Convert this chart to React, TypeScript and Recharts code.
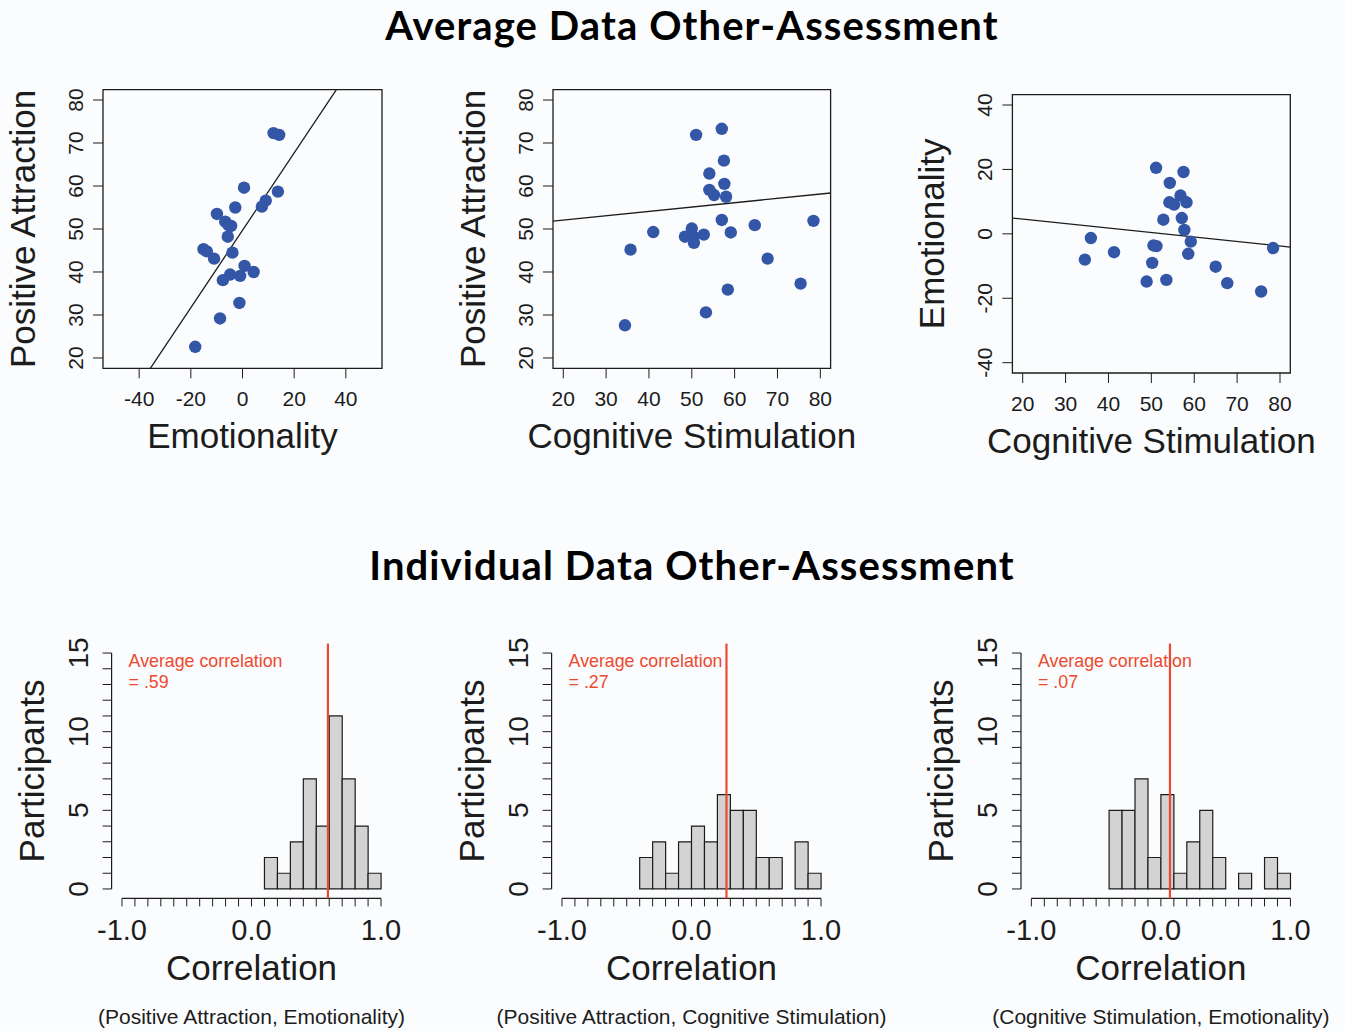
import React from "react";
import {
  Bar,
  BarChart,
  ReferenceArea,
  ReferenceLine,
  Scatter,
  ScatterChart,
  XAxis,
  YAxis
} from "recharts";

const FONT = '"Liberation Sans", Arial, Helvetica, sans-serif';
const TITLE_FONT = 'Lato, "Open Sans", sans-serif';
const INK = "#1c1c1c";
const DOT = "#3456a6";
const RED = "#ec4a2e";
const BG = "#fbfcfe";

// top row: average ratings per target
const emoX1 = [12.0, 14.2, 0.6, 13.7, 9.0, 7.5, -2.8, -9.9, -6.7, -4.4, -5.4, -5.7, -15.1, -13.8, -11.0, -3.9, 0.8, 4.3, -4.8, -0.9, -7.6, -1.2, -8.7, -18.3];
const attrY1 = [72.3, 71.9, 59.6, 58.7, 56.6, 55.2, 55.0, 53.5, 51.7, 50.7, 50.9, 48.2, 45.3, 44.8, 43.1, 44.5, 41.4, 40.0, 39.4, 39.1, 38.1, 32.8, 29.2, 22.6];
const fit1 = { a: 49.7, b: 0.9 };

const cogX2 = [51.0, 57.0, 57.5, 54.1, 57.6, 54.1, 55.2, 58.0, 57.0, 64.7, 78.4, 41.0, 59.1, 50.0, 48.4, 50.4, 52.8, 50.5, 35.7, 67.7, 75.4, 58.4, 53.3, 34.4];
const attrY2 = [71.9, 73.3, 65.9, 62.9, 60.5, 59.1, 57.9, 57.5, 52.1, 50.9, 51.9, 49.3, 49.2, 50.1, 48.2, 48.2, 48.7, 46.8, 45.2, 43.1, 37.3, 35.9, 30.6, 27.6];
const fit2 = { a: 50.05, b: 0.101 };

const cogX3 = [51.1, 57.5, 54.3, 56.8, 54.2, 55.3, 58.2, 52.8, 57.1, 57.7, 59.2, 35.9, 41.3, 50.5, 51.2, 58.6, 78.4, 34.5, 50.2, 65.0, 48.9, 53.5, 67.7, 75.6];
const emoY3 = [20.5, 19.2, 15.8, 11.9, 9.8, 9.1, 9.8, 4.4, 4.9, 1.2, -2.4, -1.3, -5.7, -3.6, -3.8, -6.2, -4.4, -8.0, -9.0, -10.2, -14.8, -14.3, -15.3, -17.9];
const fit3 = { a: 7.36, b: -0.139 };

const emoTicks = [-40, -20, 0, 20, 40];
const scoreTicks = [20, 30, 40, 50, 60, 70, 80];
const emoYTicks = [-40, -20, 0, 20, 40];

// bottom row: per-participant correlations (bin lower edges + counts)
const hist1Lo = [0.1, 0.2, 0.3, 0.4, 0.5, 0.6, 0.7, 0.8, 0.9];
const hist1Counts = [2, 1, 3, 7, 4, 11, 7, 4, 1];
const hist2Lo = [-0.4, -0.3, -0.2, -0.1, 0.0, 0.1, 0.2, 0.3, 0.4, 0.5, 0.6, 0.7, 0.8, 0.9];
const hist2Counts = [2, 3, 1, 3, 4, 3, 6, 5, 5, 2, 2, 0, 3, 1];
const hist3Lo = [-0.4, -0.3, -0.2, -0.1, 0.0, 0.1, 0.2, 0.3, 0.4, 0.5, 0.6, 0.7, 0.8, 0.9];
const hist3Counts = [5, 5, 7, 2, 6, 1, 3, 5, 2, 0, 1, 0, 2, 1];
const avgCorr = [0.59, 0.27, 0.07];
const avgCorrText = ["= .59", "= .27", "= .07"];

const corrTicks = [-1.0, -0.9, -0.8, -0.7, -0.6, -0.5, -0.4, -0.3, -0.2, -0.1, 0.0, 0.1, 0.2, 0.3, 0.4, 0.5, 0.6, 0.7, 0.8, 0.9, 1.0];
const corrLabelled = [-1, 0, 1];
const countTicks = [0, 1, 2, 3, 4, 5, 6, 7, 8, 9, 10, 11, 12, 13, 14, 15];
const countLabelled = [0, 5, 10, 15];

type Box = { l: number; t: number; r: number; b: number };

// R style y tick label, rotated, baseline towards the axis
function VTick(props: any) {
  const { x, y, payload, gap, size, show } = props;
  if (show && !show.includes(payload.value)) return null;
  const bx = x - gap;
  return (
    <text x={bx} y={y} transform={`rotate(-90 ${bx} ${y})`} textAnchor="middle" fontSize={size} fontFamily={FONT} fill={INK}>
      {payload.value}
    </text>
  );
}

function CorrTick(props: any) {
  const { x, y, payload } = props;
  if (!corrLabelled.some((v) => Math.abs(v - payload.value) < 1e-9)) return null;
  return (
    <text x={x} y={y} dy="0.71em" textAnchor="middle" fontSize={29} fontFamily={FONT} fill={INK}>
      {payload.value.toFixed(1)}
    </text>
  );
}

function Dot(props: any) {
  return <circle cx={props.cx} cy={props.cy} r={6.2} fill={DOT} />;
}

function ScatterPanel(props: {
  left: number; top: number; width: number; height: number; box: Box;
  xs: number[]; ys: number[]; fit: { a: number; b: number };
  xDomain: [number, number]; yDomain: [number, number];
  xTicks: number[]; yTicks: number[]; xLabel: string; yLabel: string;
}) {
  const { left, top, width, height, box, xs, ys, fit, xDomain, yDomain } = props;
  const data = xs.map((x, i) => ({ x, y: ys[i] }));
  const bl = box.l - left, bt = box.t - top, br = box.r - left, bb = box.b - top;
  const cy = (bt + bb) / 2;
  const ylx = bl - 68;
  const ends = xDomain.map((x) => ({ x, y: fit.a + fit.b * x }));
  return (
    <div style={{ position: "absolute", left, top }}>
      <ScatterChart width={width} height={height} margin={{ top: bt, right: width - br, bottom: 0, left: 0 }}>
        <XAxis type="number" dataKey="x" domain={xDomain} ticks={props.xTicks} interval={0} allowDataOverflow
          height={height - bb} axisLine={false} tickSize={10} tickMargin={13} tickLine={{ stroke: INK }}
          tick={{ fontSize: 21, fill: INK, fontFamily: FONT }} />
        <YAxis type="number" dataKey="y" domain={yDomain} ticks={props.yTicks} interval={0} allowDataOverflow
          width={bl} axisLine={false} tickSize={10} tickMargin={2} tickLine={{ stroke: INK }}
          tick={<VTick gap={8} size={21} />} />
        <ReferenceArea x1={xDomain[0]} x2={xDomain[1]} y1={yDomain[0]} y2={yDomain[1]} fill="none" fillOpacity={0}
          stroke={INK} strokeWidth={1.3} ifOverflow="visible" />
        <ReferenceLine segment={ends} stroke={INK} strokeWidth={1.3} ifOverflow="hidden" />
        <Scatter data={data} isAnimationActive={false} shape={<Dot />} />
        <text x={(bl + br) / 2} y={bb + 80} textAnchor="middle" fontSize={35} fontFamily={FONT} fill={INK}>
          {props.xLabel}
        </text>
        <text x={ylx} y={cy} transform={`rotate(-90 ${ylx} ${cy})`} textAnchor="middle" fontSize={35} fontFamily={FONT} fill={INK}>
          {props.yLabel}
        </text>
      </ScatterChart>
    </div>
  );
}

function HistPanel(props: {
  left: number; top: number; width: number; height: number; box: Box;
  lo: number[]; counts: number[]; mean: number; meanText: string; footnote: string;
}) {
  const { left, top, width, height, box } = props;
  const bins = props.lo.map((lo, i) => ({ mid: lo + 0.05, count: props.counts[i] }));
  const bl = box.l - left, bt = box.t - top, br = box.r - left, bb = box.b - top;
  const cx = (bl + br) / 2, cy = (bt + bb) / 2;
  const ylx = bl - 68;
  return (
    <div style={{ position: "absolute", left, top }}>
      <BarChart width={width} height={height} data={bins} barCategoryGap={0} barGap={0}
        margin={{ top: bt, right: width - br, bottom: 0, left: 0 }}>
        <XAxis type="number" dataKey="mid" domain={[-1.08, 1.08]} ticks={corrTicks} interval={0} allowDataOverflow
          height={height - bb} axisLine={false} tickSize={8} tickMargin={13} tickLine={{ stroke: INK }}
          tick={<CorrTick />} />
        <YAxis type="number" domain={[-0.6, 15.6]} ticks={countTicks} interval={0} allowDataOverflow
          width={bl} axisLine={false} tickSize={9} tickMargin={2} tickLine={{ stroke: INK }}
          tick={<VTick gap={13} size={28} show={countLabelled} />} />
        <Bar dataKey="count" fill="#d3d3d3" stroke={INK} strokeWidth={1.2} isAnimationActive={false} />
        <ReferenceLine segment={[{ x: -1, y: -0.6 }, { x: 1, y: -0.6 }]} stroke={INK} strokeWidth={1.2} ifOverflow="visible" />
        <ReferenceLine segment={[{ x: -1.08, y: 0 }, { x: -1.08, y: 15 }]} stroke={INK} strokeWidth={1.2} ifOverflow="visible" />
        <ReferenceLine x={props.mean} stroke={RED} strokeWidth={2.2} />
        <text x={bl + 17} y={bt + 23.5} fontSize={17.8} fontFamily={FONT} fill={RED}>Average correlation</text>
        <text x={bl + 17} y={bt + 44.5} fontSize={17.8} fontFamily={FONT} fill={RED}>{props.meanText}</text>
        <text x={cx} y={bb + 82} textAnchor="middle" fontSize={35} fontFamily={FONT} fill={INK}>Correlation</text>
        <text x={cx} y={bb + 126} textAnchor="middle" fontSize={21} fontFamily={FONT} fill={INK}>{props.footnote}</text>
        <text x={ylx} y={cy} transform={`rotate(-90 ${ylx} ${cy})`} textAnchor="middle" fontSize={35} fontFamily={FONT} fill={INK}>
          Participants
        </text>
      </BarChart>
    </div>
  );
}

const titleStyle: React.CSSProperties = {
  position: "absolute",
  left: 0,
  width: 1384,
  textAlign: "center",
  fontFamily: TITLE_FONT,
  fontWeight: 700,
  fontSize: 40,
  letterSpacing: "1.1px",
  lineHeight: "30px",
  color: "#000"
};

export default function App() {
  return (
    <div style={{ position: "absolute", left: 0, top: 0, width: 1345, height: 1031, background: BG, overflow: "hidden" }}>
      <div style={{ ...titleStyle, top: 9.5 }}>Average Data Other-Assessment</div>
      <div style={{ ...titleStyle, top: 549.5 }}>Individual Data Other-Assessment</div>

      <ScatterPanel left={0} top={60} width={440} height={410} box={{ l: 103, t: 89.7, r: 382, b: 368.3 }}
        xs={emoX1} ys={attrY1} fit={fit1} xDomain={[-54, 54]} yDomain={[17.6, 82.4]}
        xTicks={emoTicks} yTicks={scoreTicks} xLabel="Emotionality" yLabel="Positive Attraction" />
      <ScatterPanel left={440} top={60} width={440} height={410} box={{ l: 553, t: 89.7, r: 830.6, b: 368.3 }}
        xs={cogX2} ys={attrY2} fit={fit2} xDomain={[17.6, 82.4]} yDomain={[17.6, 82.4]}
        xTicks={scoreTicks} yTicks={scoreTicks} xLabel="Cognitive Stimulation" yLabel="Positive Attraction" />
      <ScatterPanel left={880} top={60} width={465} height={415} box={{ l: 1012.4, t: 94.7, r: 1290.3, b: 373 }}
        xs={cogX3} ys={emoY3} fit={fit3} xDomain={[17.6, 82.4]} yDomain={[-43.2, 43.2]}
        xTicks={scoreTicks} yTicks={emoYTicks} xLabel="Cognitive Stimulation" yLabel="Emotionality" />

      <HistPanel left={0} top={620} width={450} height={411} box={{ l: 111.6, t: 643.6, r: 391.4, b: 898.4 }}
        lo={hist1Lo} counts={hist1Counts} mean={avgCorr[0]} meanText={avgCorrText[0]}
        footnote="(Positive Attraction, Emotionality)" />
      <HistPanel left={450} top={620} width={470} height={411} box={{ l: 551.6, t: 643.6, r: 831.4, b: 898.4 }}
        lo={hist2Lo} counts={hist2Counts} mean={avgCorr[1]} meanText={avgCorrText[1]}
        footnote="(Positive Attraction, Cognitive Stimulation)" />
      <HistPanel left={920} top={620} width={425} height={411} box={{ l: 1021, t: 643.6, r: 1300.8, b: 898.4 }}
        lo={hist3Lo} counts={hist3Counts} mean={avgCorr[2]} meanText={avgCorrText[2]}
        footnote="(Cognitive Stimulation, Emotionality)" />
    </div>
  );
}
